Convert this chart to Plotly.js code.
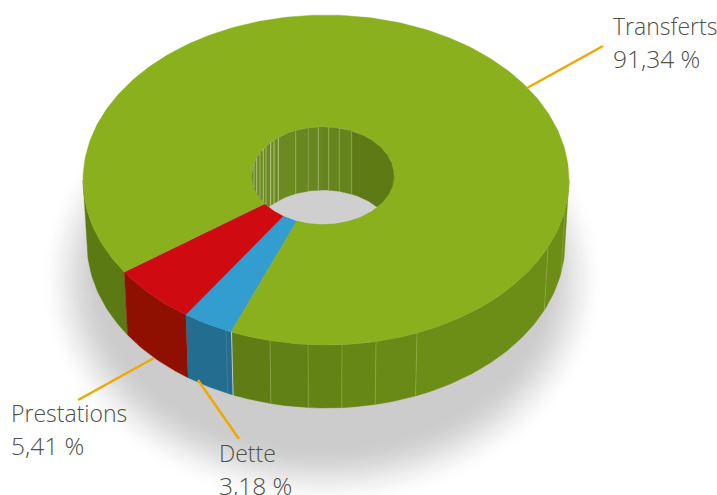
<!DOCTYPE html>
<html><head><meta charset="utf-8">
<script src="https://cdn.plot.ly/plotly-3.0.1.min.js"></script>
<style>html,body{margin:0;padding:0;background:#fff;overflow:hidden}#c{width:717px;height:495px}</style>
</head><body><div id="c"></div>
<script>
const categories = ["Dette", "Prestations", "Transferts"];
const shares = [3.18, 5.41, 91.34];
const valueLabels = ["3,18 %", "5,41 %", "91,34 %"];
const topColors = ["#349dd0", "#cf0a10", "#8bb01d"];
const sideColors = ["#236e90", "#8f0f00", "#5c7a14"];

const START = 113, DEG = Math.PI / 180, STRETCH = 1.07;
const OUT = {cx: 326, cy: 180, a: 243, b: 165};
const DEPTH = 63;
const BOT = {cx: 326, cy: 180 + DEPTH, a: 239, b: 165};
const HOLE = {cx: 323, cy: 175.5, a: 71, b: 48.5};
const pt = (e, t, dy = 0) => [e.cx + e.a * Math.cos(t * DEG), e.cy + e.b * Math.sin(t * DEG) + dy];
const traces = [];
function poly(points, color, w = 0.4) {
  traces.push({type: "scatter", mode: "lines", x: points.map(p => p[0]), y: points.map(p => p[1]),
    fill: "toself", fillcolor: color, line: {color: color, width: w}, hoverinfo: "skip"});
}
function stroke(points, color, width) {
  traces.push({type: "scatter", mode: "lines", x: points.map(p => p[0]), y: points.map(p => p[1]),
    line: {color: color, width: width}, hoverinfo: "skip"});
}
function arc(e, t0, t1, dy = 0, step = 1) {
  const n = Math.max(1, Math.ceil(Math.abs(t1 - t0) / step)), r = [];
  for (let i = 0; i <= n; i++) r.push(pt(e, t0 + (t1 - t0) * i / n, dy));
  return r;
}
const tOfX = x => Math.acos(Math.max(-1, Math.min(1, (x - OUT.cx) / OUT.a))) / DEG;

// soft shadow: stacked ellipses, outermost first
const SH = {cx: 322, cy: 280, a: 252, b: 198, blur: 32, grey: 204};
for (let i = 0; i <= 32; i++) {
  const f = i / 32, s = f * f * (3 - 2 * f);
  const g = Math.round(255 - (255 - SH.grey) * s);
  const d = SH.blur * (1 - 2 * f);
  poly(arc({cx: SH.cx, cy: SH.cy, a: SH.a + d, b: SH.b + d}, 0, 360, 0, 3), `rgb(${g},${g},${g})`);
}

// slice angles from the shares (front slices are stretched slightly by the perspective)
let cursor = 0;
const outerA = [], innerA = [];
shares.forEach(v => {
  const a = cursor * 3.6 * STRETCH, b = (cursor + v) * 3.6 * STRETCH;
  outerA.push([START + a, START + b]);
  innerA.push([START - 1.5 + a, START - 1.5 + b]);
  cursor += v;
});
outerA[2][1] = START + 360;
innerA[2][1] = START - 1.5 + 360;

// outer side wall
function side(t0, t1, color) {
  poly(arc(OUT, t0, t1).concat(arc(BOT, t1, t0)), color);
}
side(outerA[2][0], 180, sideColors[2]);
const facetX = [232, 270, 308, 342, 376, 417, 548, 569];
const facetC = ["#5f7d14", "#618015", "#638315", "#668716", "#698a16", "#6c8d16", "#6c8d16"];
for (let i = 0; i < facetC.length; i++) side(tOfX(facetX[i]), tOfX(facetX[i + 1]), facetC[i]);
side(outerA[0][0], outerA[0][1], sideColors[0]);
side(outerA[1][0], outerA[1][1], sideColors[1]);
[270, 308, 342, 376, 417, 548, 565].forEach(x => {
  const t = tOfX(x);
  stroke([pt(OUT, t), pt(BOT, t)], "rgba(190,205,130,0.3)", 1);
});
{ const t = tOfX(226); stroke([pt(OUT, t), pt(BOT, t)], "rgba(120,170,195,0.25)", 1); }

// top face
shares.forEach((v, i) => {
  const [o0, o1] = outerA[i], [n0, n1] = innerA[i];
  poly(arc(OUT, o0, o1).concat(arc(HOLE, n1, n0)).concat([pt(OUT, o0)]), topColors[i]);
});

// hole: floor, then back wall clipped to the opening
poly(arc(HOLE, 0, 360), "#cfcfcf");
const clipLow = p => {
  const dx = (p[0] - HOLE.cx) / HOLE.a;
  const yLow = HOLE.cy + HOLE.b * Math.sqrt(Math.max(0, 1 - dx * dx));
  return [p[0], Math.min(p[1] + DEPTH, yLow)];
};
[[144, 247, "#6b8a20"], [247, 270, "#688720"], [270, 294, "#65841b"], [294, 396, "#5d7a14"]].forEach(([a, b, c]) => {
  const top = arc(HOLE, a, b, 0, 1);
  poly(top.concat(top.slice().reverse().map(clipLow)), c);
});
const wallLines = [
  [254, .5], [256.7, .6], [260, .5], [263.3, .6], [266, .5], [270.7, .7], [274, .6], [278.3, .6],
  [295.7, .3], [308.3, .25], [318.3, .45], [328.7, .4], [339.3, .35], [351.7, .3]];
wallLines.forEach(([x, o]) => {
  const dx = (x - HOLE.cx) / HOLE.a, r = Math.sqrt(1 - dx * dx);
  const yTop = HOLE.cy - HOLE.b * r, yLow = HOLE.cy + HOLE.b * r;
  stroke([[x, yTop], [x, Math.min(yTop + DEPTH, yLow)]], `rgba(225,230,200,${o})`, 1);
});

// leader lines
const LEADER = "#f0a800";
stroke([[527, 88], [603, 46]], LEADER, 2.5);
stroke([[154, 358], [78, 400]], LEADER, 2.5);
stroke([[198, 380], [239, 439]], LEADER, 2.5);

// labels
const labelPos = [[217.5, 463], [9.5, 422.5], [611.5, 36]];
const FONT = {family: "'Open Sans', sans-serif", color: "#505044", weight: 300};
const annotations = [];
function label(x, y, text, size) {
  const yy = Math.min(y, 494);
  annotations.push({x, y: yy, xref: "x", yref: "y", text, showarrow: false, xanchor: "left", yanchor: "bottom",
    yshift: -7 - (y - yy), borderpad: 0, font: Object.assign({size}, FONT)});
}
categories.forEach((c, i) => {
  const [x, y] = labelPos[i];
  label(x, y, c, 23);
  label(x, y + 33, valueLabels[i], 24.5);
});

Plotly.newPlot("c", traces, {
  width: 717, height: 495, margin: {l: 0, r: 0, t: 0, b: 0},
  paper_bgcolor: "#fff", plot_bgcolor: "#fff", showlegend: false,
  xaxis: {range: [0, 717], visible: false, fixedrange: true},
  yaxis: {range: [495, 0], visible: false, fixedrange: true},
  annotations, hovermode: false
}, {staticPlot: true, displayModeBar: false});
</script></body></html>
